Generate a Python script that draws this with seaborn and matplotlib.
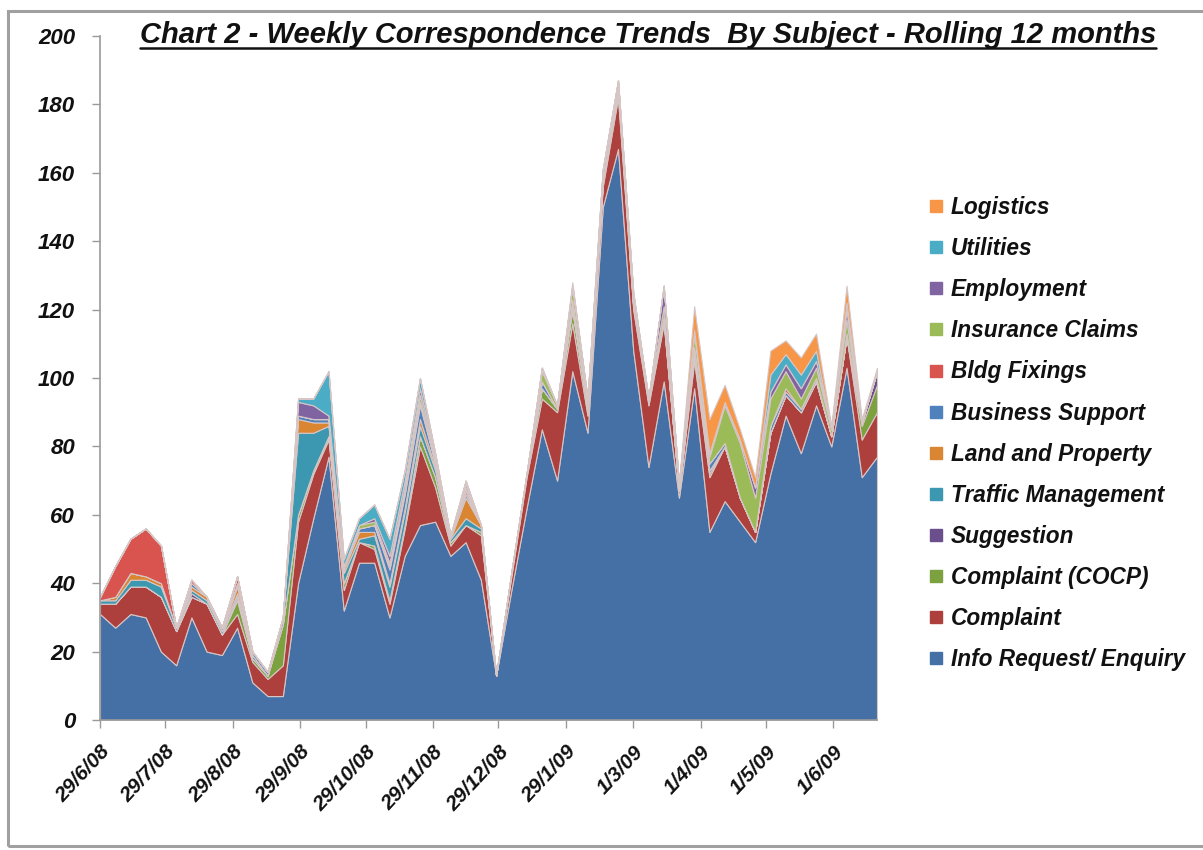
import numpy as np
import pandas as pd
import matplotlib
matplotlib.use("Agg")
import matplotlib.pyplot as plt
from matplotlib.lines import Line2D
from matplotlib.patches import Rectangle
import seaborn as sns

# Weekly totals by subject, week commencing 29/6/08
weeks = pd.date_range("2008-06-29", periods=52, freq="7D")

info_request = [31, 27, 31, 30, 20, 16, 30, 20, 19, 27, 11, 7, 7, 40, 59, 77, 32, 46, 46, 30,
                48, 57, 58, 48, 52, 41, 13, 38, 62, 85, 70, 102, 84, 150, 167, 108, 74, 99, 65, 97,
                55, 64, 58, 52, 72, 89, 78, 92, 80, 103, 71, 77]
complaint = [3, 7, 8, 9, 16, 10, 6, 14, 6, 4, 6, 5, 9, 18, 13, 5, 6, 6, 4, 4,
             8, 23, 10, 3, 5, 13, 0, 4, 9, 9, 20, 14, 5, 6, 15, 12, 18, 17, 2, 8,
             16, 16, 7, 3, 12, 6, 12, 7, 3, 9, 11, 13]
complaint_cocp = [0, 0, 0, 0, 0, 0, 0, 0, 0, 4, 1, 1, 12, 2, 1, 1, 2, 0, 1, 1,
                  1, 3, 3, 1, 0, 1, 0, 1, 1, 3, 1, 4, 2, 1, 2, 1, 1, 1, 0, 2,
                  1, 0, 0, 0, 0, 0, 0, 0, 0, 0, 4, 8]
suggestion = [0, 0, 0, 0, 0, 0, 1, 0, 0, 1, 0, 0, 0, 0, 0, 0, 0, 0, 0, 0,
              0, 0, 0, 0, 0, 0, 0, 0, 0, 0, 0, 0, 0, 0, 0, 0, 0, 0, 0, 0,
              1, 0, 0, 0, 0, 0, 0, 0, 0, 0, 1, 4]
traffic_mgmt = [1, 1, 2, 2, 3, 1, 1, 1, 1, 1, 1, 0, 2, 24, 11, 3, 3, 1, 3, 4,
                4, 3, 2, 1, 2, 1, 0, 0, 0, 0, 0, 1, 0, 0, 1, 0, 0, 0, 0, 1,
                0, 0, 0, 0, 0, 0, 0, 0, 0, 0, 0, 0]
land_property = [0, 1, 2, 1, 1, 0, 1, 1, 0, 2, 0, 0, 0, 4, 3, 1, 1, 2, 1, 1,
                 1, 2, 1, 0, 6, 1, 0, 0, 0, 0, 0, 1, 1, 0, 1, 0, 0, 0, 1, 0,
                 0, 0, 0, 0, 0, 0, 0, 0, 0, 0, 0, 0]
business_support = [0, 0, 0, 0, 0, 0, 1, 0, 1, 1, 1, 1, 0, 1, 1, 1, 1, 1, 2, 4,
                    4, 4, 1, 1, 1, 0, 0, 0, 0, 2, 0, 1, 0, 2, 0, 1, 0, 1, 0, 1,
                    2, 1, 0, 0, 2, 1, 1, 1, 0, 1, 0, 0]
bldg_fixings = [1, 9, 10, 14, 11, 0, 1, 0, 0, 2, 0, 0, 0, 0, 0, 0, 0, 0, 0, 1,
                1, 1, 0, 0, 1, 0, 0, 0, 0, 0, 0, 0, 0, 0, 0, 0, 0, 0, 0, 0,
                0, 0, 0, 0, 0, 1, 0, 0, 0, 0, 0, 0]
insurance_claims = [0, 0, 0, 0, 0, 0, 0, 0, 0, 0, 0, 0, 0, 0, 0, 0, 0, 1, 1, 1,
                    1, 2, 1, 0, 1, 0, 0, 0, 0, 3, 1, 4, 2, 0, 1, 2, 1, 3, 1, 4,
                    2, 11, 16, 10, 8, 5, 3, 3, 2, 4, 0, 0]
employment = [0, 0, 0, 0, 0, 0, 0, 0, 0, 0, 0, 0, 0, 4, 4, 1, 0, 0, 1, 2,
              2, 2, 1, 0, 1, 0, 0, 0, 0, 1, 0, 0, 0, 2, 0, 1, 0, 6, 0, 1,
              1, 1, 1, 3, 2, 2, 3, 2, 0, 3, 0, 0]
utilities = [0, 0, 0, 0, 0, 0, 0, 0, 0, 0, 0, 0, 0, 1, 2, 13, 2, 2, 4, 5,
             3, 3, 1, 0, 1, 0, 0, 0, 0, 0, 0, 0, 0, 0, 0, 0, 0, 0, 0, 0,
             0, 0, 0, 0, 5, 3, 4, 3, 0, 2, 0, 0]
logistics = [0, 0, 0, 0, 0, 0, 0, 0, 0, 0, 0, 0, 0, 0, 0, 0, 0, 0, 0, 0,
             0, 0, 0, 0, 0, 0, 0, 0, 0, 0, 0, 1, 0, 0, 0, 0, 0, 0, 0, 7,
             10, 5, 3, 3, 7, 4, 5, 5, 1, 5, 1, 1]

subjects = ["Info Request/ Enquiry", "Complaint", "Complaint (COCP)", "Suggestion",
            "Traffic Management", "Land and Property", "Business Support", "Bldg Fixings",
            "Insurance Claims", "Employment", "Utilities", "Logistics"]
palette = ["#4470A6", "#AD403D", "#7BA23F", "#6A4F8C", "#3B98B0", "#D98532",
           "#4F81BD", "#D9534F", "#9BBB59", "#8064A2", "#4BACC6", "#F79646"]

tick_dates = pd.to_datetime(["2008-06-29", "2008-07-29", "2008-08-29", "2008-09-29",
                             "2008-10-29", "2008-11-29", "2008-12-29", "2009-01-29",
                             "2009-03-01", "2009-04-01", "2009-05-01", "2009-06-01"])
tick_labels = ["29/6/08", "29/7/08", "29/8/08", "29/9/08", "29/10/08", "29/11/08",
               "29/12/08", "29/1/09", "1/3/09", "1/4/09", "1/5/09", "1/6/09"]
y_ticks = [0, 20, 40, 60, 80, 100, 120, 140, 160, 180, 200]

title_text = "Chart 2 - Weekly Correspondence Trends  By Subject - Rolling 12 months"

df = pd.DataFrame(
    dict(zip(subjects, [info_request, complaint, complaint_cocp, suggestion, traffic_mgmt,
                        land_property, business_support, bldg_fixings, insurance_claims,
                        employment, utilities, logistics])),
    index=weeks,
)

sns.set_theme(style="white")
plt.rcParams["font.family"] = ["Liberation Sans", "DejaVu Sans"]
plt.rcParams["font.weight"] = "bold"
plt.rcParams["font.style"] = "italic"

W, H = 1203, 850
fig = plt.figure(figsize=(W / 100, H / 100), dpi=100)
fig.patch.set_facecolor("white")

# plot area in pixel terms
left, right, top, bottom = 100, 877, 36, 720
ax = fig.add_axes([left / W, 1 - bottom / H, (right - left) / W, (bottom - top) / H])

ax.stackplot(df.index, *[df[c].values for c in subjects], colors=palette,
             edgecolor="#d6c6c6", linewidth=0.8)

ax.set_xlim(weeks[0], weeks[-1])
ax.set_ylim(0, 200)
ax.set_yticks(y_ticks)
ax.set_yticklabels([str(v) for v in y_ticks], fontsize=16, fontweight="bold",
                   style="italic", color="#111111")
ax.set_xticks(tick_dates)
ax.set_xticklabels(tick_labels, rotation=47, ha="right", rotation_mode="anchor",
                   fontsize=15, fontweight="bold", style="italic", color="#111111")

for side in ("top", "right"):
    ax.spines[side].set_visible(False)
for side in ("left", "bottom"):
    ax.spines[side].set_color("#9a9a9a")
    ax.spines[side].set_linewidth(1.2)
ax.tick_params(axis="y", direction="out", length=6, width=1, color="#9a9a9a", pad=12, left=True)
ax.tick_params(axis="x", direction="out", length=6, width=1, color="#9a9a9a", pad=10, bottom=True)
ax.grid(False)
ax.set_xlabel("")
ax.set_ylabel("")

# legend, last stacked series first
handles = [Line2D([0], [0], marker="s", linestyle="none", markersize=9,
                  markerfacecolor=c, markeredgecolor=c) for c in palette[::-1]]
leg = fig.legend(handles, subjects[::-1], loc="upper left",
                 bbox_to_anchor=(928 / W, 1 - 196 / H), frameon=False,
                 prop={"size": 16.3, "weight": "bold", "style": "italic"},
                 handlelength=0.7, handletextpad=0.3, labelspacing=0.8,
                 borderaxespad=0, borderpad=0)
for t in leg.get_texts():
    t.set_color("#111111")

# title with underline
title = fig.text(648 / W, 1 - 35 / H, title_text, ha="center", va="center",
                 fontsize=21, fontweight="bold", style="italic", color="#111111")
fig.canvas.draw()
bb = title.get_window_extent(fig.canvas.get_renderer())
y_line = (bb.y0 + 1) / H
fig.add_artist(Line2D([bb.x0 / W, bb.x1 / W], [y_line, y_line], color="#111111",
                      linewidth=1.8, transform=fig.transFigure))

# chart frame
fig.add_artist(Rectangle((8 / W, 4 / H), 1.2, (846 - 7 - 4) / H, fill=False,
                         edgecolor="#a0a0a0", linewidth=2.2, transform=fig.transFigure))

fig.savefig("out.png", dpi=100, facecolor="white")
